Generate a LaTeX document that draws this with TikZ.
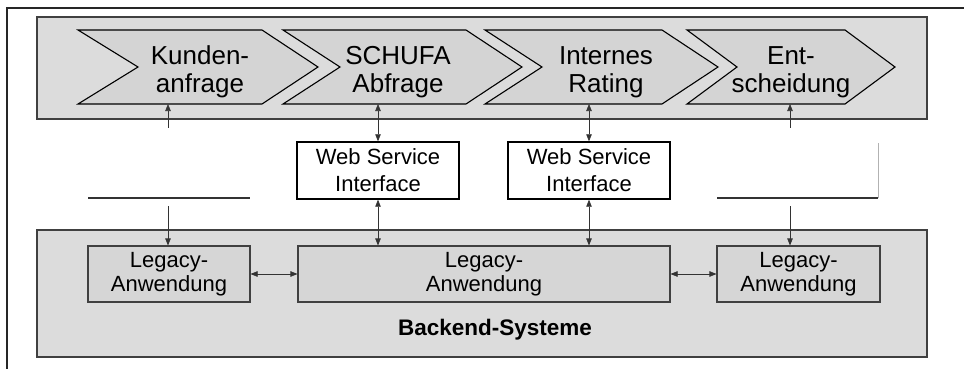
\documentclass[tikz,border=0pt]{standalone}
\usepackage{fontspec}
\setmainfont{Liberation Sans}
\usetikzlibrary{arrows.meta}
\definecolor{bandgray}{HTML}{DCDCDC}
\definecolor{chevgray}{HTML}{D4D4D4}
\definecolor{boxgray}{HTML}{D6D6D6}
\begin{document}
\begin{tikzpicture}[x=1pt,y=-1pt,
  band/.style={draw=black!75,line width=1.4pt,fill=bandgray,minimum width=890pt,inner sep=0pt},
  chev/.style={draw=black,line width=1.1pt,fill=chevgray,line join=miter},
  chevtext/.style={font=\fontsize{26}{28}\selectfont,align=center,inner sep=0pt},
  wsbox/.style={draw=black,line width=1.4pt,fill=white,minimum width=162pt,minimum height=57pt,inner sep=0pt,align=center,font=\fontsize{22}{27}\selectfont},
  legbox/.style={draw=black!75,line width=1.1pt,fill=boxgray,minimum height=56pt,inner sep=0pt,align=center,font=\fontsize{22}{22}\selectfont},
  mask/.style={fill=white,draw=none,inner sep=0pt,minimum width=162pt,minimum height=78pt},
  link/.style={line width=0.6pt,black!80,{Triangle[length=7pt,width=5.5pt]}-{Triangle[length=7pt,width=5.5pt]}}]
\useasboundingbox (0,0) rectangle (964,369);
% outer frame
\draw[line width=2pt,black!85] (7,369) -- (7,8) -- (964,8);
% bands
\node[band,minimum height=102pt] (topband) at (482,68) {};
\node[band,minimum height=127pt] (botband) at (482,293.5) {};
% chevrons
\draw[chev] (78,30) -- (262,30) -- (318,67) -- (262,104) -- (78,104) -- (138,67) -- cycle;
\draw[chev] (283,30) -- (466,30) -- (522,67) -- (466,104) -- (283,104) -- (340,67) -- cycle;
\draw[chev] (485,30) -- (662,30) -- (718,67) -- (662,104) -- (485,104) -- (542,67) -- cycle;
\draw[chev] (687,30) -- (845,30) -- (895,67) -- (845,104) -- (687,104) -- (737,67) -- cycle;
\node[chevtext] (c1) at (200,72) {Kunden-\\anfrage};
\node[chevtext] (c2) at (398,72) {SCHUFA\\Abfrage};
\node[chevtext] (c3) at (606,72) {Internes\\Rating};
\node[chevtext] (c4) at (791,72) {Ent-\\scheidung};
\coordinate (b1) at (168,104);
\coordinate (b2) at (378,104);
\coordinate (b3) at (589,104);
\coordinate (b4) at (790,104);
% web service boxes
\node[wsbox] (ws1) at (378,170.5) {Web Service\\Interface};
\node[wsbox] (ws2) at (589,170.5) {Web Service\\Interface};
% legacy boxes
\node[legbox,minimum width=162pt] (leg1) at (169,274) {Legacy-\\[2pt]Anwendung};
\node[legbox,minimum width=372pt] (leg2) at (484,274) {Legacy-\\[2pt]Anwendung};
\node[legbox,minimum width=163pt] (leg3) at (798.5,274) {Legacy-\\[2pt]Anwendung};
\node[font=\fontsize{22.5}{24}\bfseries,inner sep=0pt] (backend) at (495,330) {Backend-Systeme};
% connectors
\draw[link] (b1) -- (b1 |- leg1.north);
\draw[link] (b2) -- (ws1.north);
\draw[link] (ws1.south) -- (ws1.south |- leg2.north);
\draw[link] (b3) -- (ws2.north);
\draw[link] (ws2.south) -- (ws2.south |- leg2.north);
\draw[link] (b4) -- (b4 |- leg3.north);
\draw[link] (leg1.east) -- (leg2.west);
\draw[link] (leg2.east) -- (leg3.west);
% white panels in the middle
\node[mask,anchor=south west] (m1) at (88,206) {};
\node[mask,anchor=south west,minimum width=161pt] (m2) at (717,206) {};
\draw[line width=1.3pt,black!80] ([yshift=8pt]m1.south west) -- ([yshift=8pt]m1.south east);
\draw[line width=1.3pt,black!80] ([yshift=8pt]m2.south west) -- ([yshift=8pt]m2.south east);
\draw[line width=0.5pt,black!30] ([yshift=8pt]m2.south east) -- ([yshift=-15pt]m2.north east);
\end{tikzpicture}
\end{document}
